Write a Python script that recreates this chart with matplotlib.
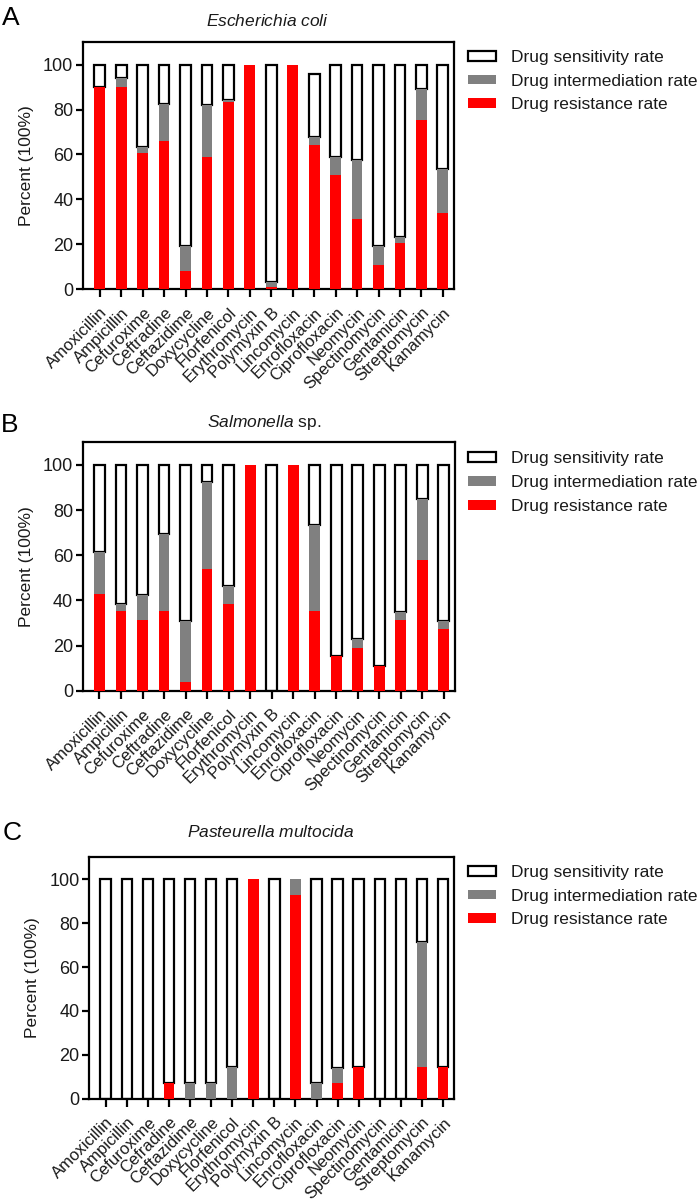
import matplotlib
matplotlib.use("Agg")
import matplotlib.pyplot as plt
from matplotlib.patches import Patch
import numpy as np

plt.rcParams['font.family'] = ['Liberation Sans', 'DejaVu Sans']
plt.rcParams['mathtext.fontset'] = 'custom'
plt.rcParams['mathtext.rm'] = 'Liberation Sans'
plt.rcParams['mathtext.it'] = 'Liberation Sans:italic'

drugs = ["Amoxicillin", "Ampicillin", "Cefuroxime", "Ceftradine", "Ceftazidime",
         "Doxycycline", "Florfenicol", "Erythromycin", "Polymyxin B", "Lincomycin",
         "Enrofloxacin", "Ciprofloxacin", "Neomycin", "Spectinomycin", "Gentamicin",
         "Streptomycin", "Kanamycin"]
drugs_c = ["Amoxicillin", "Ampicillin", "Cefuroxime", "Cefradine", "Ceftazidime",
           "Doxycycline", "Florfenicol", "Erythromycin", "Polymyxin B", "Lincomycin",
           "Enrofloxacin", "Ciprofloxacin", "Neomycin", "Spectinomycin", "Gentamicin",
           "Streptomycin", "Kanamycin"]

# Escherichia coli
ecoli_res = [90, 90, 60.7, 66, 8.2, 59, 83.4, 100, 1, 100, 64.3, 51, 31, 10.7, 20.7, 75.5, 34]
ecoli_int = [0, 4, 2.6, 16.4, 11.1, 23, 0.9, 0, 2.3, 0, 3.5, 7.7, 26.3, 8.6, 2.7, 13.5, 19.7]
ecoli_sen = [10, 6, 36.7, 17.6, 80.7, 18, 15.7, 0, 96.7, 0, 28.2, 41.3, 42.7, 80.7, 76.6, 11, 46.3]

# Salmonella sp.
salm_res = [42.8, 35.1, 31.1, 35.1, 4.0, 54, 38.5, 100, 0, 100, 35.1, 15.3, 18.8, 11.1, 31.1, 58, 27.4]
salm_int = [18.7, 3.3, 11.3, 34.1, 26.8, 38.4, 7.7, 0, 0, 0, 38.1, 0, 3.9, 0, 3.7, 26.7, 3.4]
salm_sen = [38.5, 61.6, 57.6, 30.8, 69.2, 7.6, 53.8, 0, 100, 0, 26.8, 84.7, 77.3, 88.9, 65.2, 15.3, 69.2]

# Pasteurella multocida
past_res = [0, 0, 0, 7.1, 0, 0, 0, 100, 0, 92.9, 0, 7.1, 14.3, 0, 0, 14.3, 14.3]
past_int = [0, 0, 0, 0, 7.1, 7.1, 14.3, 0, 0, 7.1, 7.1, 7.1, 0, 0, 0, 57.1, 0]
past_sen = [100, 100, 100, 92.9, 92.9, 92.9, 85.7, 0, 100, 0, 92.9, 85.7, 85.7, 100, 100, 28.6, 85.7]

legend_labels = ["Drug sensitivity rate", "Drug intermediation rate", "Drug resistance rate"]
yticks = [0, 20, 40, 60, 80, 100]

W, H = 699, 1200
fig = plt.figure(figsize=(W / 100, H / 100), dpi=100)
TXT = '#1a1a1a'
RED = '#ff0000'
GRAY = '#808080'


def px_axes(left, right, top, bottom):
    return fig.add_axes([left / W, 1 - bottom / H, (right - left) / W, (bottom - top) / H])


panels = [
    dict(box=(83, 454, 42.3, 289), labels=drugs, res=ecoli_res, inter=ecoli_int, sen=ecoli_sen,
         title=r'$\mathit{Escherichia\ coli}$', tpos=(268, 26), letter='A', lpos=(2, 25),
         leg=(468, 50), ylx=34),
    dict(box=(82.7, 455, 442.3, 690.7), labels=drugs, res=salm_res, inter=salm_int, sen=salm_sen,
         title=r'$\mathit{Salmonella}$ sp.', tpos=(264, 426.7), letter='B', lpos=(1, 431.7),
         leg=(468, 451.5), ylx=34),
    dict(box=(89.3, 454, 857.3, 1098.7), labels=drugs_c, res=past_res, inter=past_int, sen=past_sen,
         title=r'$\mathit{Pasteurella\ multocida}$', tpos=(271, 837.3), letter='C', lpos=(3, 840),
         leg=(468, 865), ylx=40),
]

for p in panels:
    ax = px_axes(*p['box'])
    x = np.arange(len(p['labels']))
    res = np.array(p['res'], dtype=float)
    inter = np.array(p['inter'], dtype=float)
    sen = np.array(p['sen'], dtype=float)
    bw = 0.5
    m = sen > 0
    ax.bar(x[m], sen[m], bottom=(res + inter)[m], width=bw, color='white', edgecolor='black',
           linewidth=1.6, zorder=2)
    mi = inter > 0
    ax.bar(x[mi], inter[mi], bottom=res[mi], width=bw, color=GRAY, edgecolor='none', zorder=3)
    mr = res > 0
    ax.bar(x[mr], res[mr], width=bw, color=RED, edgecolor='none', zorder=3)
    ax.set_xlim(-0.78, 16.52)
    ax.set_ylim(0, 110)
    ax.set_yticks(yticks)
    ax.set_xticks(x)
    ax.set_xticklabels(p['labels'], rotation=45, ha='right', rotation_mode='anchor',
                       fontsize=12, color=TXT)
    ax.tick_params(axis='x', length=6, width=1.6, pad=5.5, colors='black', labelcolor=TXT)
    ax.tick_params(axis='y', length=5, width=1.6, pad=2, colors='black', labelcolor=TXT,
                   labelsize=13)
    for s in ax.spines.values():
        s.set_linewidth(1.6)
    ax.set_ylabel('Percent (100%)', fontsize=12.5, color=TXT)
    ax.yaxis.set_label_coords((p['ylx'] - p['box'][0]) / (p['box'][1] - p['box'][0]), 0.5)
    fig.text(p['tpos'][0] / W, 1 - p['tpos'][1] / H, p['title'], ha='center', va='baseline',
             fontsize=12.5, color=TXT)
    fig.text(p['lpos'][0] / W, 1 - p['lpos'][1] / H, p['letter'], ha='left', va='baseline',
             fontsize=19, color='black')
    handles = [Patch(facecolor='white', edgecolor='black', linewidth=1.6),
               Patch(facecolor=GRAY, edgecolor='none'),
               Patch(facecolor=RED, edgecolor='none')]
    fig.legend(handles, legend_labels, loc='upper left',
               bbox_to_anchor=(p['leg'][0] / W, 1 - p['leg'][1] / H),
               frameon=False, fontsize=12.5, handlelength=1.6, handleheight=0.5,
               handletextpad=0.9, labelspacing=0.5, borderpad=0, borderaxespad=0,
               labelcolor=TXT)

fig.savefig('out.png', dpi=100)
